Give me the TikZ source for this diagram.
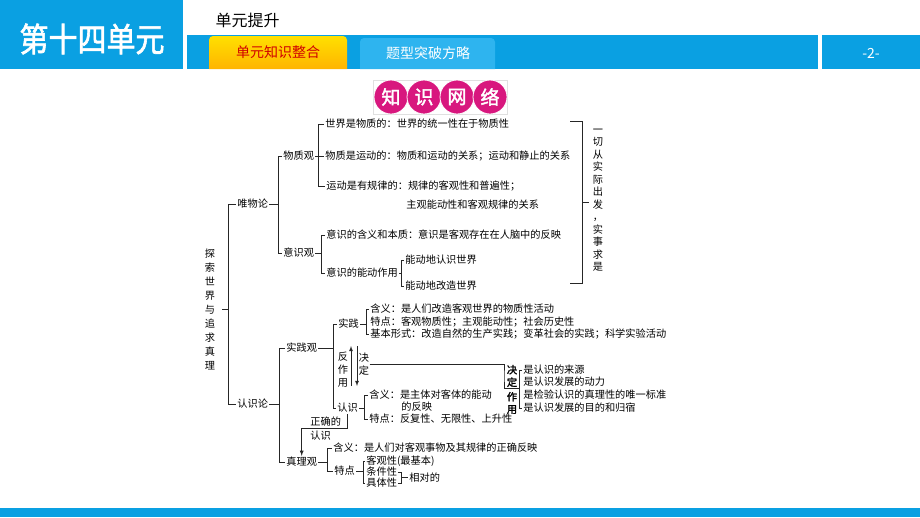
\documentclass[tikz,border=0pt]{standalone}
\usepackage{fontspec}
\setmainfont{Noto Sans CJK SC}
\newfontfamily\cjkbold{Noto Sans CJK SC}[FakeBold=2]
\usetikzlibrary{calc}
\definecolor{hdblue}{HTML}{0AA0E2}
\definecolor{tabblue}{HTML}{2EB4EF}
\definecolor{tabyellow}{HTML}{FFE000}
\definecolor{taborange}{HTML}{FFB400}
\definecolor{tabred}{HTML}{D00000}
\definecolor{titlepink}{HTML}{D8177E}
\begin{document}
\begin{tikzpicture}[x=1pt, y=-1pt, line width=0.8pt, draw=black!85,
	txt/.style={anchor=west, inner sep=1pt, font=\fontsize{10.2}{12}\selectfont},
	vtxt/.style={align=center, inner sep=0pt, font=\fontsize{10.2}{13}\selectfont},
	boldv/.style={align=center, inner sep=1pt, font=\cjkbold\fontsize{10.2}{12.5}\selectfont},
	titlecirc/.style={circle, fill=titlepink, draw=white, line width=0.8pt, minimum size=34pt,
		inner sep=0pt, text=white, font=\cjkbold\fontsize{19}{20}\selectfont}]
	\useasboundingbox (0,0) rectangle (920,517);
	%header
	\fill[hdblue] (0,0) rectangle (183,69);
	\node[white, font=\cjkbold\fontsize{29}{30}\selectfont, yscale=1.15, transform shape] (unit) at (92,39) {第十四单元};
	\node[anchor=west, font=\fontsize{16}{18}\selectfont] (title) at (212,20) {单元提升};
	\fill[hdblue] (187,35) rectangle (818,69);
	\fill[hdblue] (822,35) rectangle (920,69);
	\shade[top color=tabyellow, bottom color=taborange] (209,69) [rounded corners=4pt] -- (209,36) -- (347,36) [sharp corners] -- (347,69) -- cycle;
	\fill[tabblue] (360,69) [rounded corners=4pt] -- (360,38) -- (495,38) [sharp corners] -- (495,69) -- cycle;
	\node[text=tabred, font=\fontsize{14}{15}\selectfont] (tab1) at (278,52) {单元知识整合};
	\node[white, font=\fontsize{14}{15}\selectfont] (tab2) at (428,53) {题型突破方略};
	\node[white, font=\fontsize{14}{15}\selectfont] (page) at (871,53) {-2-};
	\fill[hdblue] (0,508) rectangle (920,517);
	
	%title
	\draw[black!12, line width=0.4pt] (373,80) rectangle (507,114);
	\foreach \c [count=\i] in {知,识,网,络}
		\node[titlecirc] (tc\i) at (358+33*\i,97) {\c};
	
	%materialism
	\node[vtxt, font=\fontsize{10.2}{14}\selectfont, minimum width=24pt] (tansuo) at (210,309) {探\\索\\世\\界\\与\\追\\求\\真\\理};
	\node[txt] (weiwu) at (236,204) {唯物论};
	\node[txt] (wuzhi) at (282,156) {物质观};
	\node[txt] (yishi) at (282,253) {意识观};
	\node[txt] (wz1) at (324,124) {世界是物质的：世界的统一性在于物质性};
	\node[txt] (wz2) at (324,156) {物质是运动的：物质和运动的关系；运动和静止的关系};
	\node[txt] (wz3) at (325,186) {运动是有规律的：规律的客观性和普遍性；};
	\node[txt] (wz4) at (405,205) {主观能动性和客观规律的关系};
	\node[txt] (ys1) at (325,235) {意识的含义和本质：意识是客观存在在人脑中的反映};
	\node[txt] (ys2) at (325,273) {意识的能动作用};
	\node[txt] (ys3) at (404,260) {能动地认识世界};
	\node[txt] (ys4) at (404,286) {能动地改造世界};
	\draw (wz2.west) -- ++(-6,0);
	
	\node[vtxt, font=\fontsize{10.2}{12.5}\selectfont] (qieshi) at (598,200) {一\\切\\从\\实\\际\\出\\发\\，\\实\\事\\求\\是};
	\coordinate (qs) at (582,202);
	\draw (570,121) -- (582,121) -- (582,283) -- (570,283);
	\draw (qs) -- ++(7,0);
	
	%theory of knowledge
	\node[txt] (renshilun) at (236,404) {认识论};
	\node[txt] (shijianguan) at (285,348) {实践观};
	\node[txt] (zhenliguan) at (285,462) {真理观};
	\node[txt] (shijian) at (337,324) {实践};
	\node[txt] (renshi) at (336,408) {认识};
	\node[txt] (sj1) at (369,309) {含义：是人们改造客观世界的物质性活动};
	\node[txt] (sj2) at (369,321.5) {特点：客观物质性；主观能动性；社会历史性};
	\node[txt] (sj3) at (369,334) {基本形式：改造自然的生产实践；变革社会的实践；科学实验活动};
	
	\node[vtxt] (fanzuoyong) at (343,370) {反\\作\\用};
	\node[vtxt] (jueding) at (364,364.5) {决\\定};
	\coordinate (up0) at (351,386);
	\coordinate (up1) at (351,346);
	\coordinate (dn0) at (357,346);
	\coordinate (dn1) at (357,386);
	\draw[-latex] (up0) -- (up1);
	\draw[-latex] (dn0) -- (dn1);
	
	\node[boldv] (jdzy1) at (512,376) {决\\定};
	\node[boldv] (jdzy2) at (512,403) {作\\用};
	\draw (jueding.east) -| ([xshift=-1.5pt]jdzy1.west) |- (jdzy1.south east);
	\node[txt] (zy1) at (522,370) {是认识的来源};
	\node[txt] (zy2) at (522,382) {是认识发展的动力};
	\node[txt] (zy3) at (522,395) {是检验认识的真理性的唯一标准};
	\node[txt] (zy4) at (522,408) {是认识发展的目的和归宿};
	\draw (zy1.west) -- ++(-2.5,0) |- (zy4.west);
	
	\node[txt] (rs1) at (368,395) {含义：是主体对客体的能动};
	\node[txt] (rs1b) at (400,407) {的反映};
	\node[txt] (rs2) at (368,419) {特点：反复性、无限性、上升性};
	
	\node[txt] (zhengque) at (309,422) {正确的};
	\node[txt] (zqrs) at (309,436) {认识};
	\draw[-latex] (renshi.south) -- ++(0,14) -| (zhenliguan.north);
	
	\node[txt] (zl1) at (332,448) {含义：是人们对客观事物及其规律的正确反映};
	\node[txt] (tedian) at (333,471) {特点};
	\node[txt] (td1) at (365,461) {客观性(最基本)};
	\node[txt] (td2) at (365,472) {条件性};
	\node[txt] (td3) at (365,483) {具体性};
	\node[txt] (xiangdui) at (408,477.5) {相对的};
	\draw (td2.east) -- ++(3,0) coordinate (rb) |- (td3.east);
	\draw (rb |- xiangdui.west) -- (xiangdui.west);
	
	%brackets
	\foreach \p/\a/\b/\g in {tansuo/weiwu/renshilun/8, weiwu/wuzhi/yishi/4, wuzhi/wz1/wz3/6,
		yishi/ys1/ys2/4, ys2/ys3/ys4/3, renshilun/shijianguan/zhenliguan/6,
		shijianguan/shijian/renshi/4, shijian/sj1/sj3/3, renshi/rs1/rs2/4,
		zhenliguan/zl1/tedian/5, tedian/td1/td3/2}{
		\draw (\a.west) -- ++(-\g,0) coordinate (br) |- (\b.west);
		\draw (\p.east) -- (br |- \p.east);
	}
\end{tikzpicture}
\end{document}
